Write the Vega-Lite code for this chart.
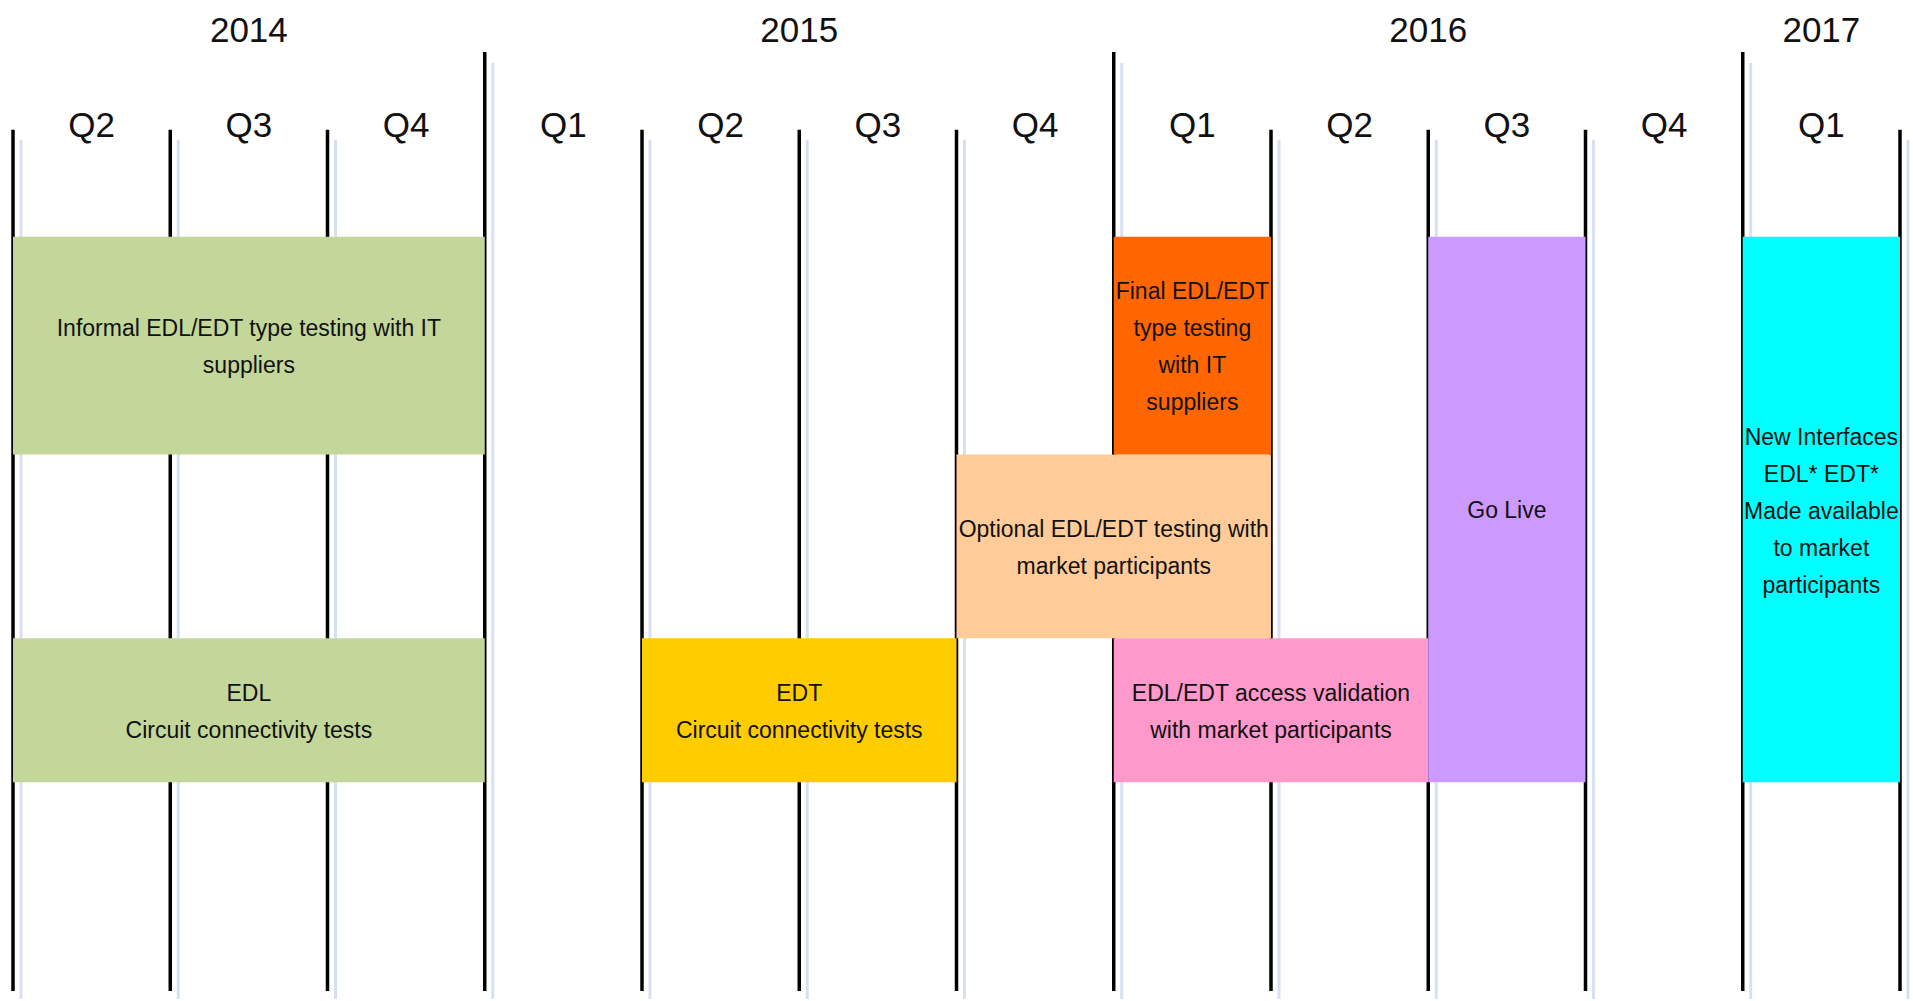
{
  "$schema": "https://vega.github.io/schema/vega-lite/v6.json",
  "width": 1913,
  "height": 1001,
  "padding": 0,
  "autosize": {"type": "fit", "contains": "padding"},
  "config": {"view": {"stroke": null}},
  "datasets": {
    "boundaries": [
      {"q": 0, "kind": "quarter"}, {"q": 1, "kind": "quarter"}, {"q": 2, "kind": "quarter"},
      {"q": 3, "kind": "year"}, {"q": 4, "kind": "quarter"}, {"q": 5, "kind": "quarter"},
      {"q": 6, "kind": "quarter"}, {"q": 7, "kind": "year"}, {"q": 8, "kind": "quarter"},
      {"q": 9, "kind": "quarter"}, {"q": 10, "kind": "quarter"}, {"q": 11, "kind": "year"},
      {"q": 12, "kind": "quarter"}
    ],
    "tasks": [
      {"task": "Informal", "label": "Informal EDL/EDT type testing with IT\nsuppliers", "start": 0, "end": 3, "top": 23.7, "bottom": 45.5},
      {"task": "EDL", "label": "EDL\nCircuit connectivity tests", "start": 0, "end": 3, "top": 63.9, "bottom": 78.3},
      {"task": "EDT", "label": "EDT\nCircuit connectivity tests", "start": 4, "end": 6, "top": 63.9, "bottom": 78.3},
      {"task": "Optional", "label": "Optional EDL/EDT testing with\nmarket participants", "start": 6, "end": 8, "top": 45.5, "bottom": 63.9},
      {"task": "Final", "label": "Final EDL/EDT\ntype testing\nwith IT\nsuppliers", "start": 7, "end": 8, "top": 23.7, "bottom": 45.5},
      {"task": "Access", "label": "EDL/EDT access validation\nwith market participants", "start": 7, "end": 9, "top": 63.9, "bottom": 78.3},
      {"task": "GoLive", "label": "Go Live", "start": 9, "end": 10, "top": 23.7, "bottom": 78.3},
      {"task": "NewInterfaces", "label": "New Interfaces\nEDL* EDT*\nMade available\nto market\nparticipants", "start": 11, "end": 12, "top": 23.7, "bottom": 78.3}
    ],
    "years": [
      {"year": "2014", "start": 0, "end": 3},
      {"year": "2015", "start": 3, "end": 7},
      {"year": "2016", "start": 7, "end": 11},
      {"year": "2017", "start": 11, "end": 12}
    ],
    "quarters": [
      {"label": "Q2", "q": 0}, {"label": "Q3", "q": 1}, {"label": "Q4", "q": 2},
      {"label": "Q1", "q": 3}, {"label": "Q2", "q": 4}, {"label": "Q3", "q": 5},
      {"label": "Q4", "q": 6}, {"label": "Q1", "q": 7}, {"label": "Q2", "q": 8},
      {"label": "Q3", "q": 9}, {"label": "Q4", "q": 10}, {"label": "Q1", "q": 11}
    ]
  },
  "layer": [
    {
      "data": {"name": "boundaries"},
      "transform": [{"filter": "datum.kind == 'quarter'"}],
      "mark": {"type": "rule", "color": "#d6e0f1", "strokeWidth": 3, "xOffset": 8},
      "encoding": {
        "x": {"field": "q", "type": "quantitative", "scale": {"domain": [-0.0827, 12.0827], "nice": false, "zero": false}, "axis": null},
        "y": {"datum": 14.0, "type": "quantitative", "scale": {"domain": [0, 100], "nice": false, "zero": false, "reverse": true}, "axis": null},
        "y2": {"datum": 100}
      }
    },
    {
      "data": {"name": "boundaries"},
      "transform": [{"filter": "datum.kind == 'year'"}],
      "mark": {"type": "rule", "color": "#d6e0f1", "strokeWidth": 3, "xOffset": 8},
      "encoding": {
        "x": {"field": "q", "type": "quantitative"},
        "y": {"datum": 6.3, "type": "quantitative"},
        "y2": {"datum": 100}
      }
    },
    {
      "data": {"name": "boundaries"},
      "transform": [{"filter": "datum.kind == 'quarter'"}],
      "mark": {"type": "rule", "color": "#000000", "strokeWidth": 3.5},
      "encoding": {
        "x": {"field": "q", "type": "quantitative"},
        "y": {"datum": 13.0, "type": "quantitative"},
        "y2": {"datum": 99.2}
      }
    },
    {
      "data": {"name": "boundaries"},
      "transform": [{"filter": "datum.kind == 'year'"}],
      "mark": {"type": "rule", "color": "#000000", "strokeWidth": 3.5},
      "encoding": {
        "x": {"field": "q", "type": "quantitative"},
        "y": {"datum": 5.2, "type": "quantitative"},
        "y2": {"datum": 99.2}
      }
    },
    {
      "data": {"name": "tasks"},
      "mark": {"type": "rect"},
      "encoding": {
        "x": {"field": "start", "type": "quantitative"},
        "x2": {"field": "end"},
        "y": {"field": "top", "type": "quantitative"},
        "y2": {"field": "bottom"},
        "color": {
          "field": "task", "type": "nominal", "legend": null,
          "scale": {
            "domain": ["Informal", "EDL", "EDT", "Optional", "Final", "Access", "GoLive", "NewInterfaces"],
            "range": ["#c4d79b", "#c4d79b", "#ffcc00", "#ffcc99", "#ff6600", "#ff99cc", "#cc99ff", "#00ffff"]
          }
        }
      }
    },
    {
      "data": {"name": "tasks"},
      "transform": [
        {"calculate": "(datum.start + datum.end) / 2", "as": "mid"},
        {"calculate": "(datum.top + datum.bottom) / 2 - (split(datum.label, '\\n').length - 1) * 37 / 20.02", "as": "vmid"}
      ],
      "mark": {"type": "text", "lineBreak": "\n", "align": "center", "baseline": "middle", "dy": 2, "font": "Liberation Sans, Arial, sans-serif", "fontSize": 23, "lineHeight": 37, "color": "#111111"},
      "encoding": {
        "x": {"field": "mid", "type": "quantitative"},
        "y": {"field": "vmid", "type": "quantitative"},
        "text": {"field": "label"}
      }
    },
    {
      "data": {"name": "years"},
      "transform": [{"calculate": "(datum.start + datum.end) / 2", "as": "mid"}],
      "mark": {"type": "text", "align": "center", "baseline": "middle", "font": "Liberation Sans, Arial, sans-serif", "fontSize": 35, "color": "#111111"},
      "encoding": {
        "x": {"field": "mid", "type": "quantitative"},
        "y": {"datum": 3.1, "type": "quantitative"},
        "text": {"field": "year"}
      }
    },
    {
      "data": {"name": "quarters"},
      "transform": [{"calculate": "datum.q + 0.5", "as": "mid"}],
      "mark": {"type": "text", "align": "center", "baseline": "middle", "font": "Liberation Sans, Arial, sans-serif", "fontSize": 35, "color": "#111111"},
      "encoding": {
        "x": {"field": "mid", "type": "quantitative"},
        "y": {"datum": 12.6, "type": "quantitative"},
        "text": {"field": "label"}
      }
    }
  ]
}
